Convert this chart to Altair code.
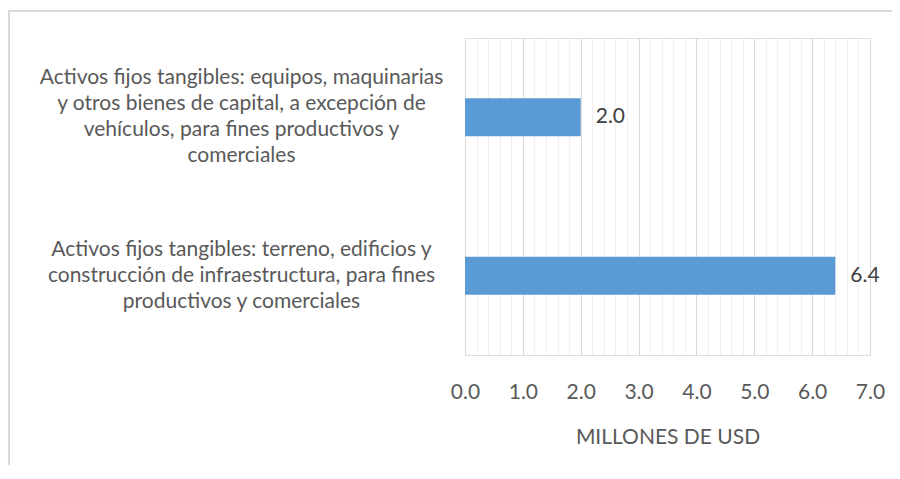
import altair as alt
import pandas as pd

categories = [
    "Activos fijos tangibles: equipos, maquinarias\ny otros bienes de capital, a excepción de\nvehículos, para fines productivos y\ncomerciales",
    "Activos fijos tangibles: terreno, edificios y\nconstrucción de infraestructura, para fines\nproductivos y comerciales",
]
values = [2.0, 6.4]
x_ticks = [round(i * 0.2, 1) for i in range(36)]

df = pd.DataFrame({"cat": categories, "val": values})

FONT = "Lato"
FS = 21
GRAY = "#595959"
LH = 26

is_major = "abs(datum.value - round(datum.value)) < 0.001"

x_scale = alt.Scale(domain=[0, 7], nice=False, zero=True)

x_enc = alt.X(
    "val:Q",
    scale=x_scale,
    axis=alt.Axis(
        values=x_ticks,
        labelExpr=f"{is_major} ? format(datum.value, '.1f') : ''",
        labelOverlap=False,
        labelFlush=False,
        labelFont=FONT,
        labelFontSize=FS,
        labelColor=GRAY,
        labelPadding=26,
        domain=False,
        ticks=False,
        grid=True,
        gridColor={"condition": {"test": is_major, "value": "#d9d9d9"}, "value": "#efefef"},
        gridWidth=1,
        title="MILLONES DE USD",
        titleFont=FONT,
        titleFontSize=FS,
        titleFontWeight="normal",
        titleColor=GRAY,
        titlePadding=24,
    ),
)

y_enc = alt.Y(
    "cat:N",
    sort=categories,
    axis=alt.Axis(
        title=None,
        domain=False,
        ticks=False,
        grid=False,
        labelAlign="center",
        labelBaseline="middle",
        labelPadding=224,
        labelLimit=1000,
        labelExpr="split(datum.label, '\\n')",
        labelLineHeight=LH,
        labelOffset={
            "condition": {"test": "length(split(datum.value, '\\n')) == 4", "value": -39},
            "value": -26,
        },
        labelFont=FONT,
        labelFontSize=FS,
        labelColor=GRAY,
    ),
)

bars = alt.Chart(df).mark_bar(size=38, color="#5b9bd5").encode(x=x_enc, y=y_enc)

labels = alt.Chart(df).mark_text(
    align="left", baseline="middle", dx=15, font=FONT, fontSize=FS, color="#404040"
).encode(
    x=alt.X("val:Q", scale=x_scale, axis=None),
    y=alt.Y("cat:N", sort=categories, axis=None),
    text=alt.Text("val:Q", format=".1f"),
)

border = alt.Chart(alt.Data(values=[{"a": 1}])).mark_rect(
    fillOpacity=0, stroke="#d9d9d9", strokeWidth=2
).encode(
    x=alt.value(-456), x2=alt.value(600), y=alt.value(-27), y2=alt.value(600)
)

chart = alt.layer(bars, labels, border).resolve_axis(
    x="independent", y="independent"
).properties(
    width=405,
    height=317,
    autosize=alt.AutoSizeParams(type="none"),
    padding={"left": 457, "top": 30, "right": 22, "bottom": 110},
).configure_view(strokeWidth=0).configure(background="white")

chart.save("out.html", embed_options={"renderer": "svg", "actions": False})
